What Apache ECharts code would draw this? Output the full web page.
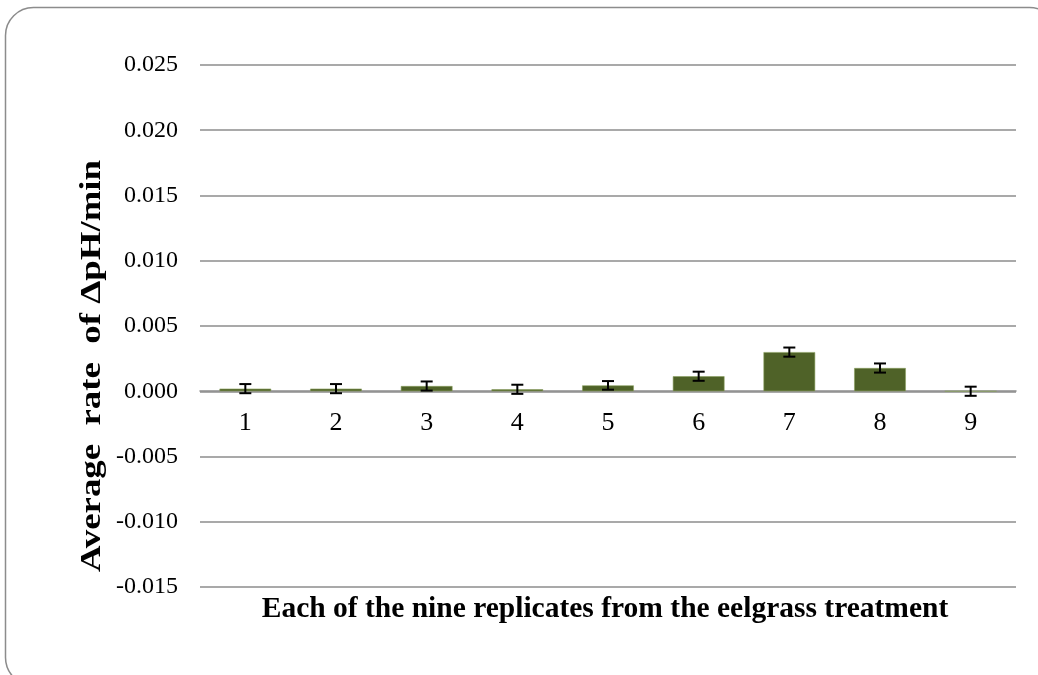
<!DOCTYPE html>
<html>
<head>
<meta charset="utf-8">
<script src="https://cdn.jsdelivr.net/npm/echarts@6/dist/echarts.min.js"></script>
<style>html,body{margin:0;padding:0;background:#fff}#c{width:1038px;height:675px}</style>
</head>
<body>
<div id="c"></div>
<script>
const categories = ['1','2','3','4','5','6','7','8','9'];
const means = [0.0002, 0.0002, 0.0004, 0.00015, 0.00045, 0.00115, 0.003, 0.00178, 0.0];
const errors = [0.00035, 0.00035, 0.00035, 0.00035, 0.00033, 0.00035, 0.00035, 0.00035, 0.00035];
const yTicks = { min: -0.015, max: 0.025, interval: 0.005 };

const chart = echarts.init(document.getElementById('c'), null, { renderer: 'canvas' });
const serif = '"Liberation Serif", "DejaVu Serif", serif';
const errData = categories.map((c, i) => [i, means[i] - errors[i], means[i] + errors[i]]);

chart.setOption({
  animation: false,
  backgroundColor: '#fff',
  grid: { left: 200, right: 22, top: 65, bottom: 88, containLabel: false },
  xAxis: {
    type: 'category',
    data: categories,
    position: 'bottom',
    offset: -196,
    axisLine: { onZero: false, lineStyle: { color: '#8c8c8c', width: 1.5 } },
    axisTick: { show: false },
    axisLabel: { color: '#000', fontFamily: serif, fontSize: 26, margin: 19 }
  },
  yAxis: {
    type: 'value',
    min: yTicks.min, max: yTicks.max, interval: yTicks.interval,
    axisLine: { show: false },
    axisTick: { show: false },
    splitLine: { lineStyle: { color: '#8c8c8c', width: 1.5 } },
    axisLabel: { color: '#000', fontFamily: serif, fontSize: 24, margin: 22,
      formatter: v => v.toFixed(3) }
  },
  series: [
    {
      type: 'bar',
      data: means,
      barWidth: '57%',
      itemStyle: { color: '#4f6228', borderColor: '#8aa05e', borderWidth: 0.6 }
    },
    {
      type: 'custom',
      data: errData,
      z: 10,
      renderItem: function (params, api) {
        const x = api.value(0);
        const lo = api.coord([x, api.value(1)]);
        const hi = api.coord([x, api.value(2)]);
        const w = 6;
        const st = { stroke: '#000', lineWidth: 2 };
        return {
          type: 'group',
          children: [
            { type: 'line', shape: { x1: lo[0], y1: lo[1], x2: hi[0], y2: hi[1] }, style: st },
            { type: 'line', shape: { x1: lo[0] - w, y1: lo[1], x2: lo[0] + w, y2: lo[1] }, style: st },
            { type: 'line', shape: { x1: hi[0] - w, y1: hi[1], x2: hi[0] + w, y2: hi[1] }, style: st }
          ]
        };
      }
    }
  ],
  graphic: [
    {
      type: 'rect', silent: true,
      shape: { x: 5.5, y: 7.5, width: 1052, height: 678, r: 28 },
      style: { fill: 'none', stroke: '#8c8c8c', lineWidth: 1.5 }
    },
    {
      type: 'text',
      x: 93, y: 366, rotation: Math.PI / 2, scaleX: 1.27, scaleY: 1,
      style: {
        text: 'Average  rate  of \u0394pH/min',
        font: 'bold 29px ' + serif,
        fill: '#000', textAlign: 'center', textVerticalAlign: 'middle'
      }
    },
    {
      type: 'text',
      x: 605, y: 609,
      style: {
        text: 'Each of the nine replicates from the eelgrass treatment',
        font: 'bold 29.5px ' + serif,
        fill: '#000', textAlign: 'center', textVerticalAlign: 'middle'
      }
    }
  ]
});
</script>
</body>
</html>
